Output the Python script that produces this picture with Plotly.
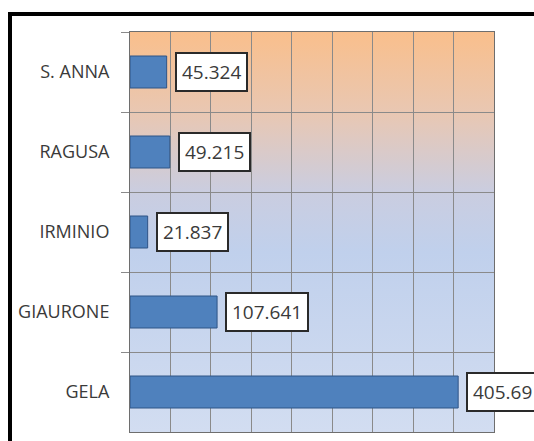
import base64
import plotly.graph_objects as go

# ---- data ----
categories = ["S. ANNA", "RAGUSA", "IRMINIO", "GIAURONE", "GELA"]
values = [45.324, 49.215, 21.837, 107.641, 405.69]
value_labels = ["45.324", "49.215", "21.837", "107.641", "405.69"]

# ---- gradient background (svg data uri) ----
svg = (
    '<svg xmlns="http://www.w3.org/2000/svg" width="100" height="100" preserveAspectRatio="none">'
    '<defs><linearGradient id="g" x1="0" y1="0" x2="0" y2="1">'
    '<stop offset="0" stop-color="#F9BF8C"/>'
    '<stop offset="0.2" stop-color="#E9C7B2"/>'
    '<stop offset="0.4" stop-color="#CACDE0"/>'
    '<stop offset="0.55" stop-color="#C0D0EC"/>'
    '<stop offset="1" stop-color="#D2DDF1"/>'
    '</linearGradient></defs>'
    '<rect x="0" y="0" width="100" height="100" fill="url(#g)"/></svg>'
)
uri = "data:image/svg+xml;base64," + base64.b64encode(svg.encode()).decode()

fig = go.Figure()
fig.add_trace(go.Bar(
    x=values, y=categories, orientation="h",
    marker=dict(color="#4F81BD", line=dict(color="#2F5486", width=1)),
    width=0.4, hoverinfo="skip",
))

annotations = []
for v, c, t in zip(values, categories, value_labels):
    annotations.append(dict(
        x=v, y=c, xref="x", yref="y", text=t, showarrow=False,
        xanchor="left", yanchor="middle", xshift=8,
        font=dict(family="Open Sans", size=19, color="#3a3a3a"),
        bgcolor="white", bordercolor="#2a2a2a", borderwidth=2, borderpad=5,
    ))

W, H = 534, 441
L, R, T, B = 130, 40, 32, 9
pw, ph = W - L - R, H - T - B

def px_x(p):
    return (p - L) / pw

def px_y(p):
    return (H - B - p) / ph

fig.update_layout(
    width=W, height=H,
    margin=dict(l=L, r=R, t=T, b=B, pad=0),
    paper_bgcolor="white",
    plot_bgcolor="rgba(0,0,0,0)",
    showlegend=False,
    bargap=0.6,
    annotations=annotations,
    images=[dict(source=uri, xref="paper", yref="paper", x=0, y=1,
                 sizex=1, sizey=1, sizing="stretch", layer="below",
                 xanchor="left", yanchor="top")],
    shapes=[dict(type="rect", xref="paper", yref="paper",
                 x0=px_x(10), x1=px_x(560), y0=px_y(470), y1=px_y(14),
                 line=dict(color="black", width=4), fillcolor="rgba(0,0,0,0)")],
    xaxis=dict(range=[0, 450], dtick=50, showticklabels=False,
               showgrid=True, gridcolor="#8a8a8a", gridwidth=1,
               zeroline=False, showline=True, mirror=True,
               linecolor="#6e6e6e", linewidth=1, fixedrange=True),
    yaxis=dict(type="category", autorange="reversed",
               tickson="boundaries", ticks="outside", ticklen=8,
               tickcolor="#8a8a8a", ticklabelstandoff=16,
               showgrid=True, gridcolor="#8a8a8a", gridwidth=1,
               showline=True, mirror=True, linecolor="#6e6e6e", linewidth=1,
               tickfont=dict(family="Open Sans", size=18, color="#3a3a3a"),
               fixedrange=True),
)

fig.write_html("out.html", config={"displayModeBar": False})
